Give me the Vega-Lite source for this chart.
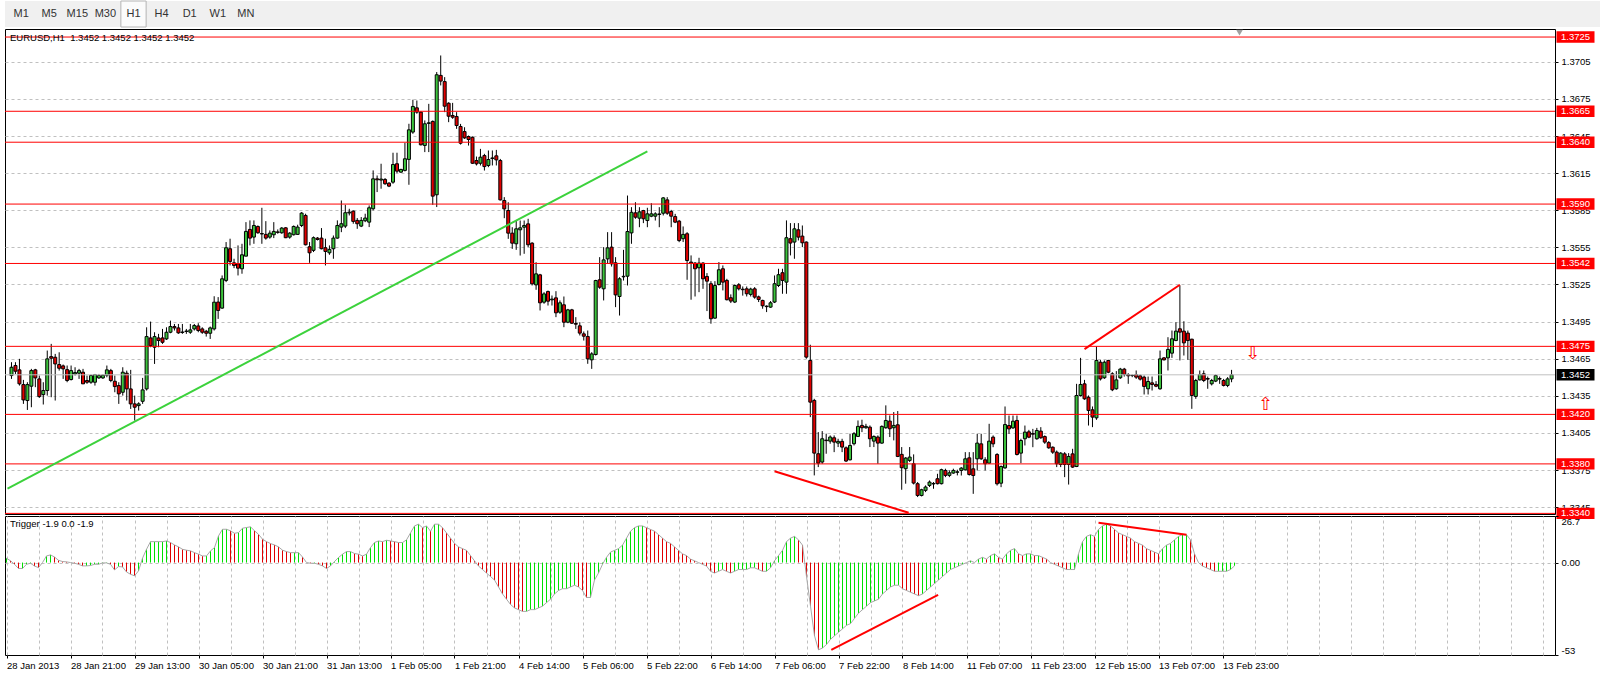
{
"$schema":"https://vega.github.io/schema/vega-lite/v6.json",
"padding":{"left":4,"top":0,"right":0,"bottom":0},
"background":"white",
"bounds":"flush",
"spacing":2,
"config":{
 "font":"Liberation Sans, sans-serif",
 "view":{"stroke":"black","strokeWidth":1},
 "axis":{"labelFont":"Liberation Sans, sans-serif","labelFontSize":9.5,"labelColor":"black","tickColor":"black","domain":false,"gridColor":"#c0c0c0","gridDash":[3,3],"gridWidth":1,"tickSize":3,"labelPadding":3},
 "title":{"font":"Liberation Sans, sans-serif","fontSize":9.5,"fontWeight":"normal","color":"black"},
 "text":{"font":"Liberation Sans, sans-serif"}
},
"datasets":{
"tabs":[{"tab":"M1"},{"tab":"M5"},{"tab":"M15"},{"tab":"M30"},{"tab":"H1"},{"tab":"H4"},{"tab":"D1"},{"tab":"W1"},{"tab":"MN"}],
"levels":[{"p":1.3725,"k":"r"},{"p":1.3665,"k":"r"},{"p":1.364,"k":"r"},{"p":1.359,"k":"r"},{"p":1.3542,"k":"r"},{"p":1.3475,"k":"r"},{"p":1.342,"k":"r"},{"p":1.338,"k":"r"},{"p":1.334,"k":"r"},{"p":1.3452,"k":"cur"}],
"trend":[{"g":"g","i":-1,"p":1.336},{"g":"g","i":160,"p":1.36325},{"g":"r1","i":192,"p":1.33741},{"g":"r1","i":225.75,"p":1.33405},{"g":"r2","i":270,"p":1.34727},{"g":"r2","i":294,"p":1.35248}],
"itrend":[{"g":"a","i":206.2,"v":-50.1},{"g":"a","i":232.9,"v":-18.5},{"g":"b","i":273,"v":22.8},{"g":"b","i":295,"v":15.9}],
"arrows":[{"i":312.4,"p":1.3469,"t":"⇩"},{"i":315.6,"p":1.3428,"t":"⇧"}],
"shift":[{"i":309,"p":1.37285}],
"bars":[
{"i":0,"o":1.34514,"h":1.34622,"l":1.34487,"c":1.34581,"v":2.5},
{"i":1,"o":1.34595,"h":1.34622,"l":1.34527,"c":1.34549,"v":1},
{"i":2,"o":1.3456,"h":1.34649,"l":1.34433,"c":1.34447,"v":-1},
{"i":3,"o":1.34441,"h":1.34479,"l":1.34285,"c":1.34317,"v":-3.4},
{"i":4,"o":1.34312,"h":1.3446,"l":1.34236,"c":1.34441,"v":-3.4},
{"i":5,"o":1.34428,"h":1.34568,"l":1.34258,"c":1.34554,"v":-1},
{"i":6,"o":1.3456,"h":1.34568,"l":1.3442,"c":1.34495,"v":-0.4},
{"i":7,"o":1.34487,"h":1.34514,"l":1.34333,"c":1.34344,"v":-2},
{"i":8,"o":1.3436,"h":1.3446,"l":1.3428,"c":1.34393,"v":-2.9},
{"i":9,"o":1.34393,"h":1.34716,"l":1.34352,"c":1.34649,"v":0},
{"i":10,"o":1.34667,"h":1.3477,"l":1.34339,"c":1.34654,"v":3.8},
{"i":11,"o":1.34662,"h":1.34689,"l":1.34312,"c":1.34608,"v":4.4},
{"i":12,"o":1.34603,"h":1.34702,"l":1.34554,"c":1.34573,"v":3.2},
{"i":13,"o":1.34592,"h":1.34603,"l":1.34487,"c":1.34568,"v":1.3},
{"i":14,"o":1.34562,"h":1.34595,"l":1.3446,"c":1.34474,"v":0.6},
{"i":15,"o":1.34482,"h":1.34595,"l":1.34474,"c":1.34554,"v":0.4},
{"i":16,"o":1.34527,"h":1.34581,"l":1.34514,"c":1.34538,"v":0},
{"i":17,"o":1.34533,"h":1.34568,"l":1.34487,"c":1.34554,"v":-0.4},
{"i":18,"o":1.34541,"h":1.34568,"l":1.34447,"c":1.34447,"v":-1},
{"i":19,"o":1.34474,"h":1.34514,"l":1.34447,"c":1.3446,"v":-1.9},
{"i":20,"o":1.3446,"h":1.34522,"l":1.34447,"c":1.34514,"v":-1.9},
{"i":21,"o":1.3446,"h":1.34527,"l":1.34433,"c":1.34522,"v":-1.7},
{"i":22,"o":1.34495,"h":1.34527,"l":1.34487,"c":1.34514,"v":-1},
{"i":23,"o":1.34495,"h":1.34522,"l":1.34487,"c":1.34517,"v":-1},
{"i":24,"o":1.34517,"h":1.34595,"l":1.345,"c":1.3456,"v":-0.2},
{"i":25,"o":1.34554,"h":1.34568,"l":1.3446,"c":1.34474,"v":-0.2},
{"i":26,"o":1.34468,"h":1.34514,"l":1.34379,"c":1.34425,"v":-1},
{"i":27,"o":1.34433,"h":1.3446,"l":1.34285,"c":1.34366,"v":-4.2},
{"i":28,"o":1.34379,"h":1.34581,"l":1.34352,"c":1.34541,"v":-2.3},
{"i":29,"o":1.34533,"h":1.34554,"l":1.34312,"c":1.34406,"v":-2.5},
{"i":30,"o":1.34406,"h":1.3456,"l":1.34244,"c":1.34285,"v":-5.4},
{"i":31,"o":1.34285,"h":1.34352,"l":1.3415,"c":1.34258,"v":-6.7},
{"i":32,"o":1.34271,"h":1.34298,"l":1.34231,"c":1.34285,"v":-7.6},
{"i":33,"o":1.34306,"h":1.34495,"l":1.34285,"c":1.34398,"v":-4.8},
{"i":34,"o":1.34406,"h":1.34904,"l":1.34393,"c":1.34829,"v":2.5},
{"i":35,"o":1.34818,"h":1.3495,"l":1.34743,"c":1.34756,"v":7.6},
{"i":36,"o":1.34743,"h":1.34864,"l":1.34608,"c":1.34829,"v":12},
{"i":37,"o":1.34818,"h":1.34851,"l":1.34743,"c":1.34797,"v":12},
{"i":38,"o":1.34818,"h":1.34891,"l":1.3477,"c":1.34783,"v":12},
{"i":39,"o":1.3481,"h":1.34904,"l":1.34802,"c":1.34864,"v":12},
{"i":40,"o":1.34864,"h":1.34958,"l":1.34856,"c":1.3491,"v":12.4},
{"i":41,"o":1.3491,"h":1.34931,"l":1.34878,"c":1.34899,"v":11.5},
{"i":42,"o":1.34899,"h":1.34931,"l":1.34851,"c":1.34859,"v":10.1},
{"i":43,"o":1.34862,"h":1.34931,"l":1.34851,"c":1.34866,"v":9},
{"i":44,"o":1.3487,"h":1.34891,"l":1.34851,"c":1.34874,"v":7.6},
{"i":45,"o":1.34864,"h":1.34931,"l":1.34851,"c":1.34883,"v":7.1},
{"i":46,"o":1.34891,"h":1.34931,"l":1.34878,"c":1.34918,"v":6.7},
{"i":47,"o":1.34915,"h":1.34937,"l":1.34864,"c":1.34878,"v":5.7},
{"i":48,"o":1.34891,"h":1.34904,"l":1.34851,"c":1.34864,"v":4.8},
{"i":49,"o":1.34872,"h":1.34883,"l":1.34829,"c":1.34856,"v":3.8},
{"i":50,"o":1.34856,"h":1.3491,"l":1.3481,"c":1.34899,"v":3.8},
{"i":51,"o":1.34891,"h":1.35155,"l":1.34878,"c":1.35107,"v":6.7},
{"i":52,"o":1.35108,"h":1.35148,"l":1.34972,"c":1.3504,"v":8.6},
{"i":53,"o":1.35059,"h":1.35323,"l":1.35054,"c":1.35296,"v":15.3},
{"i":54,"o":1.35283,"h":1.35593,"l":1.35269,"c":1.35547,"v":19.1},
{"i":55,"o":1.35539,"h":1.3562,"l":1.35404,"c":1.35436,"v":19.1},
{"i":56,"o":1.35425,"h":1.35458,"l":1.35382,"c":1.35404,"v":18.2},
{"i":57,"o":1.35417,"h":1.35566,"l":1.35323,"c":1.35382,"v":16.8},
{"i":58,"o":1.35377,"h":1.35579,"l":1.35337,"c":1.3549,"v":17.2},
{"i":59,"o":1.35479,"h":1.35754,"l":1.35479,"c":1.35679,"v":19.7},
{"i":60,"o":1.35695,"h":1.35768,"l":1.35566,"c":1.35625,"v":20.1},
{"i":61,"o":1.35633,"h":1.35768,"l":1.35579,"c":1.35727,"v":20.5},
{"i":62,"o":1.35719,"h":1.35727,"l":1.3566,"c":1.35668,"v":18.2},
{"i":63,"o":1.35662,"h":1.3587,"l":1.35579,"c":1.35658,"v":16.2},
{"i":64,"o":1.35655,"h":1.35762,"l":1.35612,"c":1.35625,"v":13.4},
{"i":65,"o":1.35633,"h":1.35687,"l":1.3562,"c":1.35665,"v":12},
{"i":66,"o":1.35652,"h":1.35754,"l":1.35625,"c":1.35679,"v":10.9},
{"i":67,"o":1.35675,"h":1.35695,"l":1.3566,"c":1.35671,"v":10.1},
{"i":68,"o":1.35668,"h":1.35714,"l":1.3566,"c":1.35706,"v":9},
{"i":69,"o":1.35708,"h":1.35714,"l":1.35625,"c":1.35628,"v":7.1},
{"i":70,"o":1.35633,"h":1.35673,"l":1.3562,"c":1.35665,"v":6.3},
{"i":71,"o":1.35652,"h":1.35727,"l":1.35646,"c":1.35719,"v":5.7},
{"i":72,"o":1.35655,"h":1.35733,"l":1.35652,"c":1.35714,"v":5.7},
{"i":73,"o":1.35727,"h":1.35835,"l":1.35714,"c":1.35827,"v":5.7},
{"i":74,"o":1.35808,"h":1.35822,"l":1.35566,"c":1.35571,"v":3.2},
{"i":75,"o":1.35555,"h":1.35593,"l":1.35425,"c":1.35506,"v":0},
{"i":76,"o":1.35526,"h":1.35638,"l":1.35512,"c":1.35628,"v":-0.4},
{"i":77,"o":1.35625,"h":1.35633,"l":1.35606,"c":1.35614,"v":-0.4},
{"i":78,"o":1.35625,"h":1.35706,"l":1.35534,"c":1.35539,"v":-1},
{"i":79,"o":1.35547,"h":1.3562,"l":1.35404,"c":1.35517,"v":-1.9},
{"i":80,"o":1.35506,"h":1.35566,"l":1.3549,"c":1.35534,"v":-3.4},
{"i":81,"o":1.35539,"h":1.35646,"l":1.35458,"c":1.35625,"v":-1.9},
{"i":82,"o":1.35625,"h":1.35768,"l":1.3562,"c":1.35727,"v":0.6},
{"i":83,"o":1.35714,"h":1.35929,"l":1.35673,"c":1.35741,"v":2.9},
{"i":84,"o":1.35722,"h":1.35894,"l":1.35706,"c":1.3583,"v":4.8},
{"i":85,"o":1.35828,"h":1.35862,"l":1.35808,"c":1.35835,"v":6.3},
{"i":86,"o":1.35843,"h":1.35849,"l":1.35741,"c":1.3576,"v":6.3},
{"i":87,"o":1.35768,"h":1.35787,"l":1.357,"c":1.35741,"v":5.2},
{"i":88,"o":1.35722,"h":1.35795,"l":1.35714,"c":1.35768,"v":4.8},
{"i":89,"o":1.35765,"h":1.35822,"l":1.35754,"c":1.35787,"v":3.8},
{"i":90,"o":1.35754,"h":1.35889,"l":1.35714,"c":1.3587,"v":4.8},
{"i":91,"o":1.35862,"h":1.36172,"l":1.35849,"c":1.36104,"v":8.6},
{"i":92,"o":1.36104,"h":1.36131,"l":1.35997,"c":1.36096,"v":11.5},
{"i":93,"o":1.36094,"h":1.36226,"l":1.36024,"c":1.36102,"v":12.4},
{"i":94,"o":1.36099,"h":1.3611,"l":1.36056,"c":1.36064,"v":12},
{"i":95,"o":1.36069,"h":1.36077,"l":1.36037,"c":1.36045,"v":12.8},
{"i":96,"o":1.36077,"h":1.36315,"l":1.36064,"c":1.3622,"v":12.4},
{"i":97,"o":1.36226,"h":1.36315,"l":1.3615,"c":1.36166,"v":12},
{"i":98,"o":1.36158,"h":1.36185,"l":1.36153,"c":1.3618,"v":11.5},
{"i":99,"o":1.36172,"h":1.36395,"l":1.36164,"c":1.36266,"v":11.5},
{"i":100,"o":1.36261,"h":1.36549,"l":1.36056,"c":1.365,"v":13},
{"i":101,"o":1.36482,"h":1.36743,"l":1.36468,"c":1.36689,"v":17},
{"i":102,"o":1.36678,"h":1.36737,"l":1.3663,"c":1.36643,"v":21},
{"i":103,"o":1.36643,"h":1.36649,"l":1.36374,"c":1.36379,"v":22},
{"i":104,"o":1.36374,"h":1.36576,"l":1.3632,"c":1.36549,"v":20},
{"i":105,"o":1.36552,"h":1.3671,"l":1.3632,"c":1.36557,"v":21},
{"i":106,"o":1.36568,"h":1.36576,"l":1.35894,"c":1.35964,"v":18},
{"i":107,"o":1.35975,"h":1.36967,"l":1.35876,"c":1.36945,"v":22},
{"i":108,"o":1.3694,"h":1.37101,"l":1.36859,"c":1.36894,"v":22},
{"i":109,"o":1.3689,"h":1.36926,"l":1.36643,"c":1.36691,"v":20},
{"i":110,"o":1.36715,"h":1.36723,"l":1.36562,"c":1.3661,"v":17},
{"i":111,"o":1.36616,"h":1.36718,"l":1.36589,"c":1.36602,"v":14},
{"i":112,"o":1.36608,"h":1.36643,"l":1.36508,"c":1.36535,"v":11},
{"i":113,"o":1.36527,"h":1.36548,"l":1.36381,"c":1.36392,"v":9},
{"i":114,"o":1.36486,"h":1.36521,"l":1.36427,"c":1.36435,"v":8},
{"i":115,"o":1.36446,"h":1.36454,"l":1.36373,"c":1.36422,"v":7},
{"i":116,"o":1.3644,"h":1.36446,"l":1.36225,"c":1.3623,"v":4},
{"i":117,"o":1.36252,"h":1.36284,"l":1.36212,"c":1.36225,"v":1},
{"i":118,"o":1.3623,"h":1.36346,"l":1.36212,"c":1.36279,"v":-2},
{"i":119,"o":1.36292,"h":1.36306,"l":1.36171,"c":1.36203,"v":-4},
{"i":120,"o":1.36212,"h":1.36333,"l":1.36198,"c":1.3626,"v":-6},
{"i":121,"o":1.36268,"h":1.36333,"l":1.36212,"c":1.36273,"v":-8},
{"i":122,"o":1.3629,"h":1.36338,"l":1.36212,"c":1.36257,"v":-10},
{"i":123,"o":1.36252,"h":1.36265,"l":1.35929,"c":1.35934,"v":-14},
{"i":124,"o":1.35929,"h":1.35956,"l":1.35786,"c":1.35861,"v":-18},
{"i":125,"o":1.35848,"h":1.35915,"l":1.35619,"c":1.35665,"v":-21},
{"i":126,"o":1.35665,"h":1.35713,"l":1.35538,"c":1.35584,"v":-24},
{"i":127,"o":1.35579,"h":1.35767,"l":1.3553,"c":1.357,"v":-26},
{"i":128,"o":1.35692,"h":1.35767,"l":1.35484,"c":1.35708,"v":-27},
{"i":129,"o":1.35713,"h":1.35767,"l":1.35498,"c":1.35727,"v":-28},
{"i":130,"o":1.3574,"h":1.35781,"l":1.35552,"c":1.35571,"v":-28},
{"i":131,"o":1.35584,"h":1.35592,"l":1.35242,"c":1.35255,"v":-27},
{"i":132,"o":1.35247,"h":1.3543,"l":1.35207,"c":1.35336,"v":-27},
{"i":133,"o":1.35328,"h":1.35336,"l":1.3504,"c":1.35102,"v":-26},
{"i":134,"o":1.35107,"h":1.35188,"l":1.35094,"c":1.35174,"v":-25},
{"i":135,"o":1.35193,"h":1.35201,"l":1.3508,"c":1.35115,"v":-23},
{"i":136,"o":1.35126,"h":1.35161,"l":1.3508,"c":1.35132,"v":-21},
{"i":137,"o":1.35142,"h":1.35196,"l":1.34986,"c":1.35021,"v":-18},
{"i":138,"o":1.35026,"h":1.35121,"l":1.35013,"c":1.35102,"v":-16},
{"i":139,"o":1.35086,"h":1.35153,"l":1.34905,"c":1.34945,"v":-15},
{"i":140,"o":1.34945,"h":1.35053,"l":1.34937,"c":1.35045,"v":-15},
{"i":141,"o":1.35045,"h":1.35053,"l":1.34932,"c":1.34937,"v":-14},
{"i":142,"o":1.34935,"h":1.34986,"l":1.34891,"c":1.34929,"v":-13},
{"i":143,"o":1.34916,"h":1.34945,"l":1.34838,"c":1.34857,"v":-14},
{"i":144,"o":1.34851,"h":1.3487,"l":1.34797,"c":1.34832,"v":-16},
{"i":145,"o":1.3483,"h":1.34878,"l":1.34609,"c":1.34649,"v":-20},
{"i":146,"o":1.34641,"h":1.34703,"l":1.34568,"c":1.34689,"v":-20},
{"i":147,"o":1.34684,"h":1.35288,"l":1.34676,"c":1.35282,"v":-10},
{"i":148,"o":1.35288,"h":1.35471,"l":1.35215,"c":1.35228,"v":-6},
{"i":149,"o":1.35215,"h":1.35552,"l":1.35121,"c":1.35449,"v":-1},
{"i":150,"o":1.35457,"h":1.35673,"l":1.35417,"c":1.35546,"v":3},
{"i":151,"o":1.35552,"h":1.35673,"l":1.35395,"c":1.35417,"v":6},
{"i":152,"o":1.35425,"h":1.35471,"l":1.35067,"c":1.35166,"v":7},
{"i":153,"o":1.35153,"h":1.35309,"l":1.34999,"c":1.35296,"v":8},
{"i":154,"o":1.35312,"h":1.3553,"l":1.35282,"c":1.35316,"v":10},
{"i":155,"o":1.35317,"h":1.35969,"l":1.35242,"c":1.35678,"v":14},
{"i":156,"o":1.35667,"h":1.35875,"l":1.35579,"c":1.35834,"v":18},
{"i":157,"o":1.35829,"h":1.35915,"l":1.35781,"c":1.35794,"v":20},
{"i":158,"o":1.35786,"h":1.35875,"l":1.35713,"c":1.35837,"v":21},
{"i":159,"o":1.35848,"h":1.35853,"l":1.35746,"c":1.35781,"v":21},
{"i":160,"o":1.35767,"h":1.3587,"l":1.35713,"c":1.35821,"v":20},
{"i":161,"o":1.35802,"h":1.35907,"l":1.35794,"c":1.35821,"v":19},
{"i":162,"o":1.35802,"h":1.35834,"l":1.35767,"c":1.35821,"v":18},
{"i":163,"o":1.35816,"h":1.35875,"l":1.35713,"c":1.3582,"v":16},
{"i":164,"o":1.35826,"h":1.35956,"l":1.35808,"c":1.3595,"v":14},
{"i":165,"o":1.35934,"h":1.35956,"l":1.35813,"c":1.35826,"v":12},
{"i":166,"o":1.3584,"h":1.35853,"l":1.35713,"c":1.35802,"v":11},
{"i":167,"o":1.35799,"h":1.35821,"l":1.35746,"c":1.35754,"v":9},
{"i":168,"o":1.35762,"h":1.35772,"l":1.35592,"c":1.35605,"v":7},
{"i":169,"o":1.3562,"h":1.35719,"l":1.35593,"c":1.35655,"v":5},
{"i":170,"o":1.3566,"h":1.35673,"l":1.35288,"c":1.35444,"v":4},
{"i":171,"o":1.35431,"h":1.35485,"l":1.35127,"c":1.35423,"v":2},
{"i":172,"o":1.35423,"h":1.35431,"l":1.35153,"c":1.35377,"v":1},
{"i":173,"o":1.35385,"h":1.35466,"l":1.35188,"c":1.35423,"v":0},
{"i":174,"o":1.35423,"h":1.35431,"l":1.35215,"c":1.35296,"v":-1},
{"i":175,"o":1.35315,"h":1.35342,"l":1.35035,"c":1.35277,"v":-2},
{"i":176,"o":1.35256,"h":1.35277,"l":1.34933,"c":1.34973,"v":-5},
{"i":177,"o":1.34978,"h":1.35277,"l":1.34973,"c":1.35242,"v":-6},
{"i":178,"o":1.3525,"h":1.35431,"l":1.35242,"c":1.35369,"v":-5},
{"i":179,"o":1.35377,"h":1.35404,"l":1.35202,"c":1.35269,"v":-4},
{"i":180,"o":1.35283,"h":1.35296,"l":1.35121,"c":1.35127,"v":-5},
{"i":181,"o":1.35143,"h":1.3517,"l":1.351,"c":1.35116,"v":-6},
{"i":182,"o":1.35108,"h":1.3525,"l":1.351,"c":1.35242,"v":-5},
{"i":183,"o":1.35248,"h":1.35261,"l":1.35202,"c":1.35215,"v":-4},
{"i":184,"o":1.35212,"h":1.35234,"l":1.3516,"c":1.35208,"v":-4},
{"i":185,"o":1.35215,"h":1.35234,"l":1.35153,"c":1.35175,"v":-4},
{"i":186,"o":1.3517,"h":1.35224,"l":1.35153,"c":1.35213,"v":-3},
{"i":187,"o":1.35215,"h":1.35229,"l":1.35135,"c":1.35148,"v":-3},
{"i":188,"o":1.3515,"h":1.3516,"l":1.35108,"c":1.35129,"v":-4},
{"i":189,"o":1.35121,"h":1.35127,"l":1.35054,"c":1.35078,"v":-5},
{"i":190,"o":1.35075,"h":1.35081,"l":1.35027,"c":1.35071,"v":-5},
{"i":191,"o":1.35067,"h":1.35116,"l":1.35062,"c":1.35102,"v":-3},
{"i":192,"o":1.35108,"h":1.35323,"l":1.351,"c":1.35256,"v":1},
{"i":193,"o":1.35242,"h":1.35377,"l":1.35229,"c":1.35329,"v":4},
{"i":194,"o":1.35345,"h":1.35377,"l":1.35175,"c":1.35283,"v":7},
{"i":195,"o":1.35269,"h":1.35768,"l":1.35175,"c":1.35628,"v":12},
{"i":196,"o":1.3562,"h":1.35746,"l":1.35485,"c":1.35585,"v":14},
{"i":197,"o":1.35593,"h":1.35746,"l":1.35458,"c":1.357,"v":15},
{"i":198,"o":1.35692,"h":1.35746,"l":1.35606,"c":1.35633,"v":13},
{"i":199,"o":1.35641,"h":1.35727,"l":1.35552,"c":1.35587,"v":10},
{"i":200,"o":1.35593,"h":1.35598,"l":1.3465,"c":1.34663,"v":-8},
{"i":201,"o":1.34636,"h":1.34763,"l":1.34178,"c":1.34299,"v":-25},
{"i":202,"o":1.34313,"h":1.34326,"l":1.33707,"c":1.33887,"v":-42},
{"i":203,"o":1.33882,"h":1.34057,"l":1.33774,"c":1.33806,"v":-50},
{"i":204,"o":1.33815,"h":1.34065,"l":1.33801,"c":1.34003,"v":-49},
{"i":205,"o":1.33992,"h":1.34044,"l":1.33882,"c":1.33988,"v":-47},
{"i":206,"o":1.33984,"h":1.3403,"l":1.33963,"c":1.34017,"v":-44},
{"i":207,"o":1.34011,"h":1.3403,"l":1.33895,"c":1.33976,"v":-42},
{"i":208,"o":1.33968,"h":1.34003,"l":1.33936,"c":1.33982,"v":-40},
{"i":209,"o":1.33982,"h":1.34003,"l":1.33895,"c":1.33936,"v":-38},
{"i":210,"o":1.3393,"h":1.33941,"l":1.33815,"c":1.33823,"v":-36},
{"i":211,"o":1.33833,"h":1.34044,"l":1.33828,"c":1.33949,"v":-35},
{"i":212,"o":1.33963,"h":1.34057,"l":1.33949,"c":1.34044,"v":-32},
{"i":213,"o":1.34022,"h":1.34151,"l":1.34017,"c":1.34103,"v":-29},
{"i":214,"o":1.34111,"h":1.34157,"l":1.34057,"c":1.34092,"v":-27},
{"i":215,"o":1.34092,"h":1.34124,"l":1.34084,"c":1.34103,"v":-25},
{"i":216,"o":1.34097,"h":1.34111,"l":1.33936,"c":1.34003,"v":-23},
{"i":217,"o":1.33984,"h":1.3403,"l":1.33936,"c":1.34022,"v":-22},
{"i":218,"o":1.34017,"h":1.3403,"l":1.33801,"c":1.33968,"v":-21},
{"i":219,"o":1.33968,"h":1.34111,"l":1.33963,"c":1.34103,"v":-18},
{"i":220,"o":1.34092,"h":1.34273,"l":1.34084,"c":1.34151,"v":-16},
{"i":221,"o":1.34146,"h":1.34192,"l":1.34017,"c":1.34084,"v":-14},
{"i":222,"o":1.34092,"h":1.34219,"l":1.3399,"c":1.34111,"v":-13},
{"i":223,"o":1.34116,"h":1.34227,"l":1.33855,"c":1.3386,"v":-13},
{"i":224,"o":1.33877,"h":1.33936,"l":1.33591,"c":1.33769,"v":-15},
{"i":225,"o":1.33761,"h":1.33855,"l":1.3364,"c":1.33847,"v":-16},
{"i":226,"o":1.33828,"h":1.33936,"l":1.33815,"c":1.33855,"v":-17},
{"i":227,"o":1.33801,"h":1.33877,"l":1.33634,"c":1.33645,"v":-18},
{"i":228,"o":1.3364,"h":1.33653,"l":1.33532,"c":1.33545,"v":-19},
{"i":229,"o":1.33545,"h":1.33599,"l":1.33537,"c":1.33591,"v":-18},
{"i":230,"o":1.33586,"h":1.33626,"l":1.33572,"c":1.33613,"v":-16},
{"i":231,"o":1.33626,"h":1.33666,"l":1.33613,"c":1.33653,"v":-14},
{"i":232,"o":1.33638,"h":1.33653,"l":1.33599,"c":1.33642,"v":-12},
{"i":233,"o":1.3368,"h":1.3372,"l":1.33634,"c":1.3364,"v":-10},
{"i":234,"o":1.3364,"h":1.33761,"l":1.33634,"c":1.33753,"v":-8},
{"i":235,"o":1.33747,"h":1.33761,"l":1.33693,"c":1.33707,"v":-6},
{"i":236,"o":1.33707,"h":1.33747,"l":1.33693,"c":1.33728,"v":-4},
{"i":237,"o":1.33726,"h":1.33761,"l":1.3372,"c":1.33747,"v":-3},
{"i":238,"o":1.33732,"h":1.33753,"l":1.33707,"c":1.33736,"v":-2},
{"i":239,"o":1.33747,"h":1.33774,"l":1.33706,"c":1.33766,"v":-1},
{"i":240,"o":1.33752,"h":1.33895,"l":1.33747,"c":1.33841,"v":0},
{"i":241,"o":1.33849,"h":1.33895,"l":1.33706,"c":1.33714,"v":1},
{"i":242,"o":1.3376,"h":1.33895,"l":1.33558,"c":1.33706,"v":0},
{"i":243,"o":1.33841,"h":1.34043,"l":1.33747,"c":1.33968,"v":2},
{"i":244,"o":1.33962,"h":1.34043,"l":1.33833,"c":1.33841,"v":3},
{"i":245,"o":1.33833,"h":1.33854,"l":1.33747,"c":1.33801,"v":2},
{"i":246,"o":1.33806,"h":1.34124,"l":1.33801,"c":1.33984,"v":4},
{"i":247,"o":1.34016,"h":1.3403,"l":1.33935,"c":1.33962,"v":5},
{"i":248,"o":1.33876,"h":1.33887,"l":1.33625,"c":1.33639,"v":3},
{"i":249,"o":1.33644,"h":1.33787,"l":1.33612,"c":1.33779,"v":2},
{"i":250,"o":1.33768,"h":1.34264,"l":1.3376,"c":1.34118,"v":5},
{"i":251,"o":1.3411,"h":1.34191,"l":1.34043,"c":1.34083,"v":7},
{"i":252,"o":1.34091,"h":1.34191,"l":1.34083,"c":1.34145,"v":8},
{"i":253,"o":1.34151,"h":1.34191,"l":1.33868,"c":1.33876,"v":5},
{"i":254,"o":1.33887,"h":1.34003,"l":1.33806,"c":1.33989,"v":4},
{"i":255,"o":1.34003,"h":1.3411,"l":1.33949,"c":1.34057,"v":5},
{"i":256,"o":1.34059,"h":1.34075,"l":1.34008,"c":1.34016,"v":5},
{"i":257,"o":1.34046,"h":1.34083,"l":1.33935,"c":1.3404,"v":4},
{"i":258,"o":1.34003,"h":1.34091,"l":1.33995,"c":1.3407,"v":4},
{"i":259,"o":1.34065,"h":1.34097,"l":1.34003,"c":1.34011,"v":3},
{"i":260,"o":1.34021,"h":1.3403,"l":1.33962,"c":1.33976,"v":2},
{"i":261,"o":1.33972,"h":1.33984,"l":1.33922,"c":1.3393,"v":0},
{"i":262,"o":1.33935,"h":1.33941,"l":1.33881,"c":1.33895,"v":-1},
{"i":263,"o":1.33895,"h":1.33908,"l":1.33774,"c":1.33801,"v":-2},
{"i":264,"o":1.33795,"h":1.33895,"l":1.33774,"c":1.33887,"v":-3},
{"i":265,"o":1.33881,"h":1.33895,"l":1.33693,"c":1.33795,"v":-4},
{"i":266,"o":1.33795,"h":1.33887,"l":1.33633,"c":1.3386,"v":-4},
{"i":267,"o":1.33881,"h":1.33922,"l":1.33768,"c":1.33774,"v":-4},
{"i":268,"o":1.33779,"h":1.34447,"l":1.33774,"c":1.34353,"v":5},
{"i":269,"o":1.34353,"h":1.34657,"l":1.34345,"c":1.34442,"v":12},
{"i":270,"o":1.34447,"h":1.34479,"l":1.34318,"c":1.34326,"v":15},
{"i":271,"o":1.34339,"h":1.34353,"l":1.3411,"c":1.34232,"v":16},
{"i":272,"o":1.34237,"h":1.34264,"l":1.34097,"c":1.34178,"v":15},
{"i":273,"o":1.34172,"h":1.34749,"l":1.34156,"c":1.34636,"v":19},
{"i":274,"o":1.34622,"h":1.34641,"l":1.34474,"c":1.34487,"v":21},
{"i":275,"o":1.34496,"h":1.34636,"l":1.34487,"c":1.34622,"v":22},
{"i":276,"o":1.34636,"h":1.34641,"l":1.34533,"c":1.34541,"v":21},
{"i":277,"o":1.34528,"h":1.34541,"l":1.34388,"c":1.34399,"v":19},
{"i":278,"o":1.34407,"h":1.3455,"l":1.34399,"c":1.34479,"v":17},
{"i":279,"o":1.34496,"h":1.34576,"l":1.34487,"c":1.34566,"v":16},
{"i":280,"o":1.34566,"h":1.34576,"l":1.34506,"c":1.34522,"v":15},
{"i":281,"o":1.34522,"h":1.34533,"l":1.34447,"c":1.34512,"v":14},
{"i":282,"o":1.34514,"h":1.34522,"l":1.34501,"c":1.34516,"v":12},
{"i":283,"o":1.34522,"h":1.34555,"l":1.34487,"c":1.34501,"v":11},
{"i":284,"o":1.34512,"h":1.34522,"l":1.34474,"c":1.34485,"v":10},
{"i":285,"o":1.34501,"h":1.34514,"l":1.34361,"c":1.34426,"v":8},
{"i":286,"o":1.34407,"h":1.34506,"l":1.34361,"c":1.34466,"v":7},
{"i":287,"o":1.34455,"h":1.34506,"l":1.34393,"c":1.34442,"v":6},
{"i":288,"o":1.34442,"h":1.34469,"l":1.3442,"c":1.34428,"v":5},
{"i":289,"o":1.34407,"h":1.34716,"l":1.34399,"c":1.34649,"v":8},
{"i":290,"o":1.34657,"h":1.34663,"l":1.34636,"c":1.34641,"v":10},
{"i":291,"o":1.34657,"h":1.34824,"l":1.34555,"c":1.34725,"v":11},
{"i":292,"o":1.34695,"h":1.34878,"l":1.34657,"c":1.34811,"v":13},
{"i":293,"o":1.34797,"h":1.34945,"l":1.34792,"c":1.34873,"v":15},
{"i":294,"o":1.34892,"h":1.35242,"l":1.34636,"c":1.34865,"v":16},
{"i":295,"o":1.34873,"h":1.34953,"l":1.34676,"c":1.34778,"v":16},
{"i":296,"o":1.34857,"h":1.34878,"l":1.34641,"c":1.34797,"v":13},
{"i":297,"o":1.34808,"h":1.34811,"l":1.34245,"c":1.34353,"v":5},
{"i":298,"o":1.34345,"h":1.34487,"l":1.34326,"c":1.34474,"v":0},
{"i":299,"o":1.34479,"h":1.34555,"l":1.34474,"c":1.34522,"v":-2},
{"i":300,"o":1.34528,"h":1.34555,"l":1.34461,"c":1.34474,"v":-3},
{"i":301,"o":1.3449,"h":1.34506,"l":1.34407,"c":1.34485,"v":-4},
{"i":302,"o":1.34447,"h":1.34487,"l":1.34434,"c":1.34474,"v":-5},
{"i":303,"o":1.34469,"h":1.34522,"l":1.34461,"c":1.34514,"v":-5},
{"i":304,"o":1.3449,"h":1.34506,"l":1.34447,"c":1.34485,"v":-5},
{"i":305,"o":1.34474,"h":1.34487,"l":1.34426,"c":1.34434,"v":-5},
{"i":306,"o":1.34434,"h":1.34501,"l":1.3442,"c":1.34487,"v":-4},
{"i":307,"o":1.34487,"h":1.3456,"l":1.3446,"c":1.3452,"v":-1.9}
]},
"vconcat":[
{
 "width":1596,"height":26,
 "view":{"fill":"#f0f0f0","stroke":null},
 "data":{"name":"tabs"},
 "layer":[
  {"transform":[{"filter":"datum.tab == 'H1'"}],
   "mark":{"type":"rect","fill":"#fbfbfb","stroke":"#b4b4b4","strokeWidth":1},
   "encoding":{"x":{"field":"tab","type":"nominal","sort":null,"axis":null,"scale":{"domain":["M1","M5","M15","M30","H1","H4","D1","W1","MN"],"range":[3.5,253.5],"paddingInner":0.1,"paddingOuter":0}}}},
  {"mark":{"type":"text","fontSize":11,"color":"#333333"},
   "encoding":{"x":{"field":"tab","type":"nominal","sort":null,"axis":null},"text":{"field":"tab"}}}
 ]
},
{
 "width":1550,"height":485,
 "title":{"text":"EURUSD,H1\u00a0 1.3452 1.3452 1.3452 1.3452","anchor":"start","frame":"group","offset":-13,"dx":5},
 "resolve":{"axis":{"y":"independent"}},
 "layer":[
  {"data":{"name":"levels"},
   "mark":{"type":"rule","strokeWidth":1,"opacity":0},
   "encoding":{
    "y":{"field":"p","type":"quantitative","scale":{"domain":[1.33395,1.37315],"nice":false,"zero":false},
      "axis":{"orient":"left","grid":true,"labels":false,"ticks":false,"domain":false,"title":null,"minExtent":0,"maxExtent":0,"values":[1.3345,1.3375,1.3405,1.3435,1.3465,1.3495,1.3525,1.3555,1.3585,1.3615,1.3645,1.3675,1.3705]}}}},
  {"data":{"name":"bars"},
   "mark":{"type":"rule","color":"black","strokeWidth":1},
   "encoding":{
    "x":{"field":"i","type":"quantitative","scale":{"domain":[-0.375,387.125],"nice":false,"zero":false},
      "axis":{"orient":"bottom","grid":true,"labels":false,"ticks":false,"domain":false,"title":null,"values":[0,8,16,24,32,40,48,56,64,72,80,88,96,104,112,120,128,136,144,152,160,168,176,184,192,200,208,216,224,232,240,248,256,264,272,280,288,296,304,312,320,328,336,344,352,360,368,376,384]}},
    "y":{"field":"l","type":"quantitative",
      "axis":{"orient":"right","grid":false,"format":".4f","title":null,"values":[1.3345,1.3375,1.3405,1.3435,1.3465,1.3495,1.3525,1.3555,1.3585,1.3615,1.3645,1.3675,1.3705]}},
    "y2":{"field":"h"}}},
  {"data":{"name":"bars"},
   "mark":{"type":"bar","size":3,"stroke":"black","strokeWidth":1},
   "encoding":{
    "x":{"field":"i","type":"quantitative","axis":null},
    "y":{"field":"o","type":"quantitative","axis":null},
    "y2":{"field":"c"},
    "fill":{"condition":{"test":"datum.c >= datum.o","value":"#3cc43c"},"value":"#e00000"}}},
  {"data":{"name":"levels"},
   "mark":{"type":"rule","strokeWidth":1},
   "encoding":{
    "y":{"field":"p","type":"quantitative","axis":null},
    "color":{"condition":{"test":"datum.k == 'cur'","value":"#c0c0c0"},"value":"#ff0000"}}},
  {"data":{"name":"trend"},
   "mark":{"type":"line","strokeWidth":2,"clip":true},
   "encoding":{
    "x":{"field":"i","type":"quantitative","axis":null},
    "y":{"field":"p","type":"quantitative","axis":null},
    "detail":{"field":"g"},
    "color":{"field":"g","type":"nominal","legend":null,"scale":{"domain":["g","r1","r2"],"range":["#3cd23c","#ff0000","#ff0000"]}}}},
  {"data":{"name":"arrows"},
   "mark":{"type":"text","fontSize":18,"font":"DejaVu Sans","color":"#ff0000","baseline":"middle","align":"center"},
   "encoding":{
    "x":{"field":"i","type":"quantitative","axis":null},
    "y":{"field":"p","type":"quantitative","axis":null},
    "text":{"field":"t"}}},
  {"data":{"name":"shift"},
   "mark":{"type":"point","shape":"triangle-down","size":45,"filled":true,"color":"#a0a0a0","opacity":1,"clip":false},
   "encoding":{
    "x":{"field":"i","type":"quantitative","axis":null},
    "y":{"field":"p","type":"quantitative","axis":null}}},
  {"data":{"name":"levels"},
   "mark":{"type":"point","shape":"M-1,-0.3H1V0.3H-1Z","size":1444,"filled":true,"opacity":1,"strokeWidth":0,"xOffset":20.5,"clip":false},
   "encoding":{
    "x":{"value":"width"},
    "y":{"field":"p","type":"quantitative","axis":null},
    "fill":{"condition":{"test":"datum.k == 'cur'","value":"#000000"},"value":"#ff0000"}}},
  {"data":{"name":"levels"},
   "mark":{"type":"text","dx":20.5,"align":"center","baseline":"middle","fill":"white","fontSize":9.5,"clip":false},
   "encoding":{
    "x":{"value":"width"},
    "y":{"field":"p","type":"quantitative","axis":null},
    "text":{"field":"p","type":"quantitative","format":".4f"}}}
 ]
},
{
 "width":1550,"height":139,
 "title":{"text":"Trigger -1.9 0.0 -1.9","anchor":"start","frame":"group","offset":-13,"dx":5},
 "resolve":{"axis":{"x":"independent","y":"independent"}},
 "layer":[
  {"data":{"name":"bars"},
   "transform":[{"window":[{"op":"lag","field":"v","as":"pv"}],"sort":[{"field":"i"}]}],
   "mark":{"type":"rule","strokeWidth":1},
   "encoding":{
    "x":{"field":"i","type":"quantitative","scale":{"domain":[-0.375,387.125],"nice":false,"zero":false},
      "axis":{"orient":"top","grid":true,"labels":false,"ticks":false,"domain":false,"title":null,"values":[0,8,16,24,32,40,48,56,64,72,80,88,96,104,112,120,128,136,144,152,160,168,176,184,192,200,208,216,224,232,240,248,256,264,272,280,288,296,304,312,320,328,336,344,352,360,368,376,384]}},
    "y":{"field":"v","type":"quantitative","scale":{"domain":[-53,26.7],"nice":false,"zero":false},
      "axis":{"orient":"left","grid":true,"labels":false,"ticks":false,"domain":false,"title":null,"minExtent":0,"maxExtent":0,"values":[0]}},
    "y2":{"datum":0},
    "color":{"condition":{"test":"datum.pv == null || datum.v >= datum.pv","value":"#00e000"},"value":"#e00000"}}},
  {"data":{"name":"bars"},
   "mark":{"type":"line","color":"#a8a8a8","strokeWidth":1},
   "encoding":{
    "x":{"field":"i","type":"quantitative",
      "axis":{"orient":"bottom","grid":false,"domain":false,"ticks":true,"tickSize":3,"title":null,"labelAlign":"left","labelBaseline":"top","labelPadding":2,"labelOverlap":false,"labelBound":false,"labelFlush":false,"values":[0,16,32,48,64,80,96,112,128,144,160,176,192,208,224,240,256,272,288,304],
      "labelExpr":"['28 Jan 2013','28 Jan 21:00','29 Jan 13:00','30 Jan 05:00','30 Jan 21:00','31 Jan 13:00','1 Feb 05:00','1 Feb 21:00','4 Feb 14:00','5 Feb 06:00','5 Feb 22:00','6 Feb 14:00','7 Feb 06:00','7 Feb 22:00','8 Feb 14:00','11 Feb 07:00','11 Feb 23:00','12 Feb 15:00','13 Feb 07:00','13 Feb 23:00'][round(datum.value/16)]"}},
    "y":{"field":"v","type":"quantitative",
      "axis":{"orient":"right","grid":false,"title":null,"values":[-53,0,26.7],"labelFlush":true,"labelExpr":"datum.value == 0 ? '0.00' : (datum.value > 0 ? '26.7' : '-53')"}}}},
  {"data":{"name":"itrend"},
   "mark":{"type":"line","color":"#ff0000","strokeWidth":2},
   "encoding":{
    "x":{"field":"i","type":"quantitative","axis":null},
    "y":{"field":"v","type":"quantitative","axis":null},
    "detail":{"field":"g"}}}
 ]
}
]
}
